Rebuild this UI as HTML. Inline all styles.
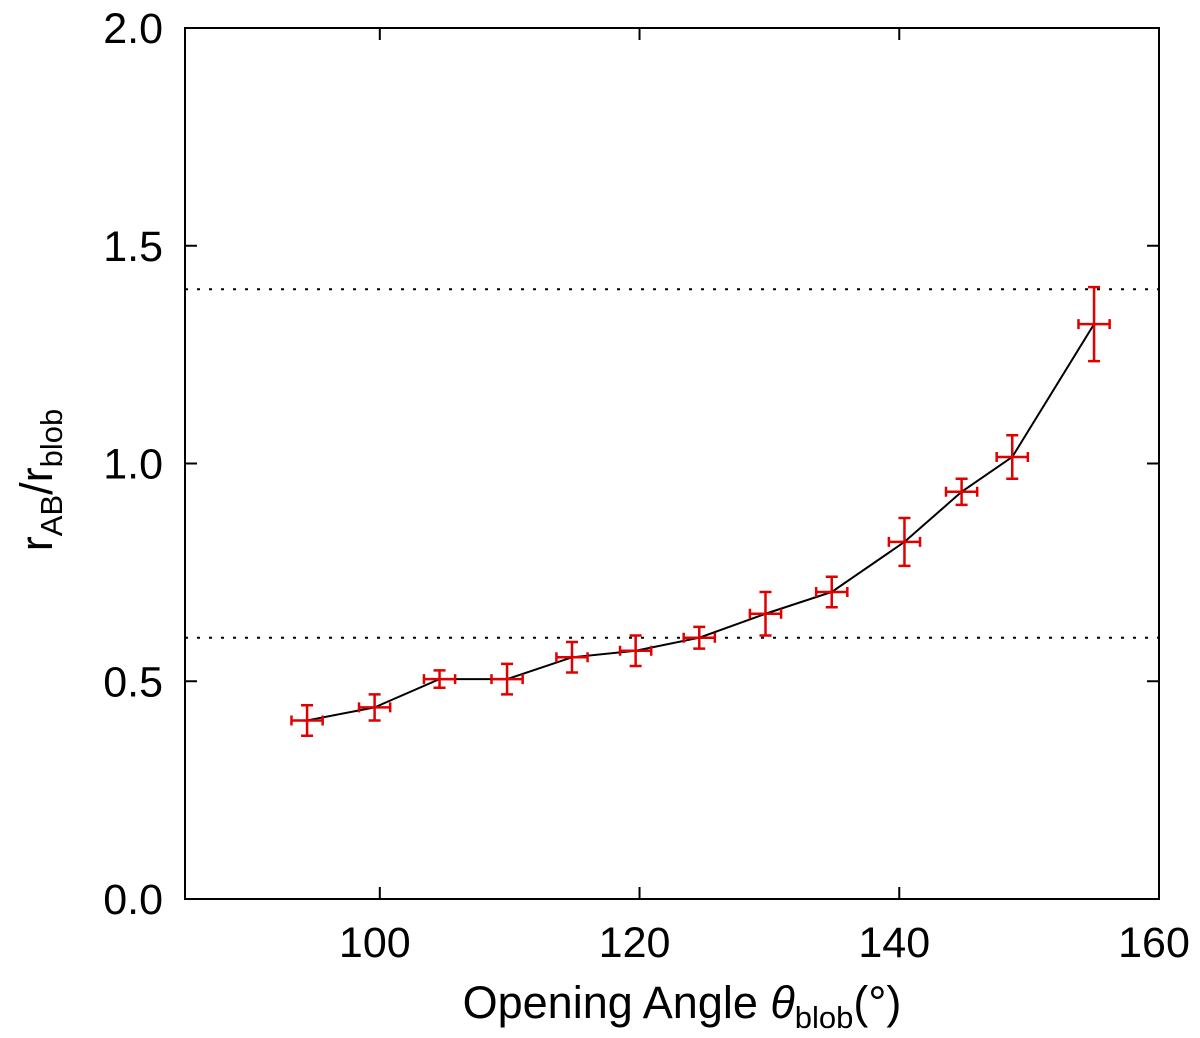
<!DOCTYPE html>
<html><head><meta charset="utf-8"><style>
body{margin:0;background:#fff;}
svg text{font-family:"Liberation Sans",sans-serif;fill:#000;}
</style></head><body>
<svg id="chart" width="1200" height="1033" xmlns="http://www.w3.org/2000/svg">
<rect x="185" y="28" width="974" height="871" fill="none" stroke="#000" stroke-width="2"/>
<g id="ticks"></g><g id="refs"></g><g id="series"></g>
<text x="682" y="1018" font-size="45" text-anchor="middle">Opening Angle <tspan font-style="italic">θ</tspan><tspan font-size="31" dy="10">blob</tspan><tspan dy="-10">(°)</tspan></text>
<text transform="translate(52,480) rotate(-90)" font-size="45" text-anchor="middle">r<tspan font-size="31" dy="10">AB</tspan><tspan dy="-10">/r</tspan><tspan font-size="31" dy="10">blob</tspan></text>
</svg>
<script>
const xVals=[94.4,99.6,104.6,109.8,114.8,119.7,124.6,129.7,134.8,140.4,144.8,148.7,155];
const yVals=[0.41,0.44,0.505,0.505,0.555,0.57,0.60,0.655,0.705,0.82,0.935,1.015,1.32];
const yErr=[0.035,0.03,0.02,0.035,0.035,0.035,0.025,0.05,0.035,0.055,0.03,0.05,0.085];
const xErr=[1.2,1.2,1.2,1.2,1.2,1.2,1.2,1.2,1.2,1.2,1.2,1.2,1.2];
const xTicks=[100,120,140,160];
const yTicks=[0.0,0.5,1.0,1.5,2.0];
const refLines=[1.4,0.6];
const NS="http://www.w3.org/2000/svg";
const L=185,R=1159,T=28,B=899,XMIN=85,XMAX=160,YMIN=0,YMAX=2;
const sx=v=>L+(v-XMIN)/(XMAX-XMIN)*(R-L);
const sy=v=>B-(v-YMIN)/(YMAX-YMIN)*(B-T);
function mk(tag,at,parent){const e=document.createElementNS(NS,tag);for(const k in at)e.setAttribute(k,at[k]);document.getElementById(parent).appendChild(e);return e;}
xTicks.forEach(t=>{
 const a=mk('line',{x1:sx(t),x2:sx(t),y1:B,y2:B-12,stroke:'#000','stroke-width':2},'ticks');
 
 
 const b=mk('line',{x1:sx(t),x2:sx(t),y1:T,y2:T+12,stroke:'#000','stroke-width':2},'ticks');
 
 
 const tx=mk('text',{x:sx(t)-5,y:B+58,'font-size':43,'text-anchor':'middle'},'ticks');tx.textContent=t;
 
 
});
yTicks.forEach(t=>{
 const a=mk('line',{x1:L,x2:L+12,y1:sy(t),y2:sy(t),stroke:'#000','stroke-width':2},'ticks');
 
 
 const b=mk('line',{x1:R,x2:R-12,y1:sy(t),y2:sy(t),stroke:'#000','stroke-width':2},'ticks');
 
 
 const tx=mk('text',{x:L-22,y:sy(t)+15,'font-size':43,'text-anchor':'end'},'ticks');tx.textContent=t.toFixed(1);
 
 
});
refLines.forEach(v=>{
 const l=mk('line',{x1:L,x2:R,y1:sy(v),y2:sy(v),stroke:'#000','stroke-width':2,'stroke-dasharray':'3,9'},'refs');
 
 
});
const p=mk('polyline',{points:xVals.map((x,i)=>sx(x)+','+sy(yVals[i])).join(' '),fill:'none',stroke:'#000','stroke-width':2},'series');


xVals.forEach((x,i)=>{
 const cx=sx(x),cy=sy(yVals[i]),x0=sx(x-xErr[i]),x1=sx(x+xErr[i]),y0=sy(yVals[i]-yErr[i]),y1=sy(yVals[i]+yErr[i]);
 const g=mk('path',{d:`M${x0},${cy}H${x1}M${cx},${y0}V${y1}M${x0},${cy-5}V${cy+5}M${x1},${cy-5}V${cy+5}M${cx-6},${y0}H${cx+6}M${cx-6},${y1}H${cx+6}`,stroke:'#e00000','stroke-width':2.5,fill:'none'},'series');
 
 
});
</script>
</body></html>
